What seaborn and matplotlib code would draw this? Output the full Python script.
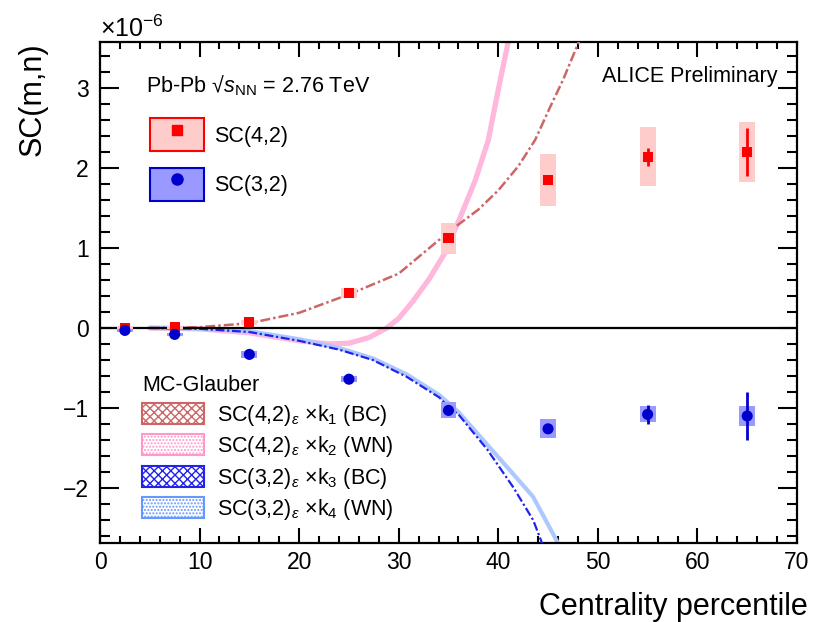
import numpy as np
import pandas as pd
import matplotlib
matplotlib.use("Agg")
import matplotlib.pyplot as plt
import seaborn as sns
from matplotlib.patches import Rectangle, Patch
from matplotlib.lines import Line2D
from matplotlib.ticker import MultipleLocator

# ---------------- data (values in units of 1e-6) ----------------
cent = [2.5, 7.5, 15, 25, 35, 45, 55, 65]
sc42 = [0.0, 0.01, 0.07, 0.44, 1.12, 1.85, 2.14, 2.20]
sc42_stat = [0.01, 0.01, 0.01, 0.02, 0.03, 0.05, 0.11, 0.30]
sc42_sys = [0.03, 0.02, 0.03, 0.06, 0.19, 0.32, 0.37, 0.375]
sc32 = [-0.03, -0.08, -0.33, -0.64, -1.03, -1.26, -1.08, -1.10]
sc32_stat = [0.01, 0.01, 0.01, 0.02, 0.03, 0.04, 0.115, 0.30]
sc32_sys = [0.02, 0.02, 0.04, 0.04, 0.10, 0.12, 0.10, 0.12]

# MC-Glauber curves
bc42_x = [5, 10, 15, 20, 25, 30, 35, 38, 40, 42, 43.7, 45.2, 46.5, 48.1]
bc42_y = [0, 0.01, 0.06, 0.19, 0.42, 0.68, 1.20, 1.48, 1.72, 2.02, 2.35, 2.76, 3.10, 3.58]
wn42_x = [5, 10, 15, 20, 23, 25, 27, 28.8, 30, 31.4, 33.1, 34.6, 36.2, 37.7, 39.0, 40.0, 41.0]
wn42_y = [0, -0.01, -0.06, -0.16, -0.20, -0.19, -0.12, 0.0, 0.12, 0.33, 0.62, 0.93, 1.39, 1.85, 2.35, 2.98, 3.58]
bc32_x = [5, 10, 15, 20, 24, 27.4, 30.8, 34.1, 35.1, 36, 38.9, 41.5, 43.5, 44.4]
bc32_y = [0, -0.01, -0.05, -0.16, -0.27, -0.40, -0.61, -0.87, -1.00, -1.08, -1.52, -1.99, -2.40, -2.69]
wn32_x = [5, 10, 15, 20, 24, 27.4, 30.8, 34.1, 36, 38.9, 40.9, 43.5, 46.0]
wn32_y = [0, -0.01, -0.04, -0.14, -0.25, -0.38, -0.58, -0.84, -1.05, -1.46, -1.74, -2.11, -2.69]

labels_glauber = [r"SC(4,2)$_{\varepsilon}$ $\times$k$_{1}$ (BC)",
                  r"SC(4,2)$_{\varepsilon}$ $\times$k$_{2}$ (WN)",
                  r"SC(3,2)$_{\varepsilon}$ $\times$k$_{3}$ (BC)",
                  r"SC(3,2)$_{\varepsilon}$ $\times$k$_{4}$ (WN)"]

# ---------------- style ----------------
sns.set_style("ticks")
plt.rcParams["font.family"] = ["Liberation Sans", "DejaVu Sans"]
plt.rcParams["mathtext.fontset"] = "custom"
plt.rcParams["mathtext.rm"] = "Liberation Sans"
plt.rcParams["mathtext.it"] = "Liberation Sans:italic"
plt.rcParams["mathtext.bf"] = "Liberation Sans:bold"
plt.rcParams["mathtext.sf"] = "Liberation Sans"
plt.rcParams["hatch.linewidth"] = 1.0
for k in ["text.color", "axes.labelcolor", "xtick.color", "ytick.color", "axes.edgecolor"]:
    plt.rcParams[k] = "black"

RED = "#ff0000"
RED_FILL = "#ffcccc"
BLUE = "#0000cc"
BLUE_FILL = "#9999ff"
C_BC42 = "#cc6666"
C_WN42 = "#ff99cc"
C_BC32 = "#2222ee"
C_WN32 = "#6699ff"

fig = plt.figure(figsize=(8.15, 6.22), dpi=100)
ax = fig.add_axes([0.1227, 0.127, 0.8552, 0.8055])

# ---------------- model curves ----------------
sns.lineplot(x=wn42_x, y=wn42_y, ax=ax, color="#ffb8dc", lw=3.8, zorder=2)
sns.lineplot(x=wn32_x, y=wn32_y, ax=ax, color="#adc8ff", lw=3.0, zorder=2)
sns.lineplot(x=bc42_x, y=bc42_y, ax=ax, color=C_BC42, lw=1.8, zorder=3,
             linestyle=(0, (4, 1.2, 1, 1.2)))
sns.lineplot(x=bc32_x, y=bc32_y, ax=ax, color=C_BC32, lw=1.6, zorder=3,
             linestyle=(0, (4, 1.2, 1, 1.2)))

# zero line
ax.axhline(0, color="black", lw=1.6, zorder=4)

# ---------------- systematic boxes ----------------
cent_a = np.array(cent)
for y, s, fc in [(sc42, sc42_sys, RED_FILL), (sc32, sc32_sys, BLUE_FILL)]:
    y = np.array(y); s = np.array(s)
    ax.bar(cent_a, 2 * s, bottom=y - s, width=1.6, color=fc, edgecolor="none", zorder=5)

# stat errors
ax.errorbar(cent, sc42, yerr=sc42_stat, fmt="none", ecolor=RED, elinewidth=2, capsize=0, zorder=6)
ax.errorbar(cent, sc32, yerr=sc32_stat, fmt="none", ecolor=BLUE, elinewidth=2, capsize=0, zorder=6)

# markers
df42 = pd.DataFrame({"cent": cent, "sc": sc42})
df32 = pd.DataFrame({"cent": cent, "sc": sc32})
sns.scatterplot(data=df42, x="cent", y="sc", ax=ax, marker="s", s=52, color=RED,
                edgecolor="none", zorder=7)
sns.scatterplot(data=df32, x="cent", y="sc", ax=ax, marker="o", s=64, color=BLUE,
                edgecolor="none", zorder=7)

# ---------------- axes ----------------
ax.set_xlim(0, 70)
ax.set_ylim(-2.6875, 3.575)
ax.xaxis.set_major_locator(MultipleLocator(10))
ax.xaxis.set_minor_locator(MultipleLocator(2))
ax.yaxis.set_major_locator(MultipleLocator(1))
ax.yaxis.set_minor_locator(MultipleLocator(0.2))
ax.tick_params(which="both", direction="in", top=True, right=True, width=1.5,
               labelsize=16.5, color="black", labelcolor="black")
ax.tick_params(axis="x", which="major", length=10.5, pad=6)
ax.tick_params(axis="x", which="minor", length=5)
ax.tick_params(axis="y", which="major", length=14, pad=8)
ax.tick_params(axis="y", which="minor", length=7)
for sp in ax.spines.values():
    sp.set_linewidth(1.6)
    sp.set_visible(True)
    sp.set_color("black")

ax.set_xlabel("Centrality percentile", fontsize=22)
ax.xaxis.set_label_coords(1.016, -0.098)
ax.xaxis.label.set_ha("right")
ax.set_ylabel("SC(m,n)", fontsize=22)
ax.yaxis.set_label_coords(-0.118, 1.0)
ax.yaxis.label.set_va("top")
ax.yaxis.label.set_ha("right")

fig.text(100 / 815, 1 - 37 / 622, r"$\times$10$^{-6}$", fontsize=18, va="baseline", ha="left")

ax.text(0.9727, 0.920, "ALICE Preliminary", transform=ax.transAxes, fontsize=15.5,
        ha="right", va="baseline")
ax.text(0.066, 0.900, "Pb-Pb \u221a$s_{\\mathrm{NN}}$ = 2.76 TeV", transform=ax.transAxes,
        fontsize=15.5, ha="left", va="baseline")

# ---------------- legends ----------------
h42 = (Rectangle((0, 0), 1, 1, facecolor=RED_FILL, edgecolor=RED, lw=1.5),
       Line2D([], [], marker="s", color=RED, ls="none", markersize=7))
h32 = (Rectangle((0, 0), 1, 1, facecolor=BLUE_FILL, edgecolor=BLUE, lw=1.5),
       Line2D([], [], marker="o", color=BLUE, ls="none", markersize=8))
leg1 = ax.legend([h42, h32], ["SC(4,2)", "SC(3,2)"], loc="upper left",
                 bbox_to_anchor=(0.0717, 0.848), frameon=False, fontsize=15.5,
                 handlelength=2.5, handleheight=2.0, labelspacing=0.75,
                 handletextpad=0.5, borderpad=0, borderaxespad=0)
ax.add_artist(leg1)

gh = [Patch(facecolor="white", edgecolor=C_BC42, hatch="xxxx", lw=1.5),
      Patch(facecolor="white", edgecolor=C_WN42, hatch=".....", lw=1.5),
      Patch(facecolor="white", edgecolor=C_BC32, hatch="xxxx", lw=1.5),
      Patch(facecolor="white", edgecolor=C_WN32, hatch=".....", lw=1.5)]
leg2 = ax.legend(gh, labels_glauber, loc="upper left", bbox_to_anchor=(0.0606, 0.335),
                 frameon=False, fontsize=15.5, title="MC-Glauber", title_fontsize=15.5,
                 alignment="left", handlelength=2.85, handleheight=1.1, labelspacing=0.3,
                 handletextpad=0.6, borderpad=0, borderaxespad=0)

fig.savefig("out.png", dpi=100)
